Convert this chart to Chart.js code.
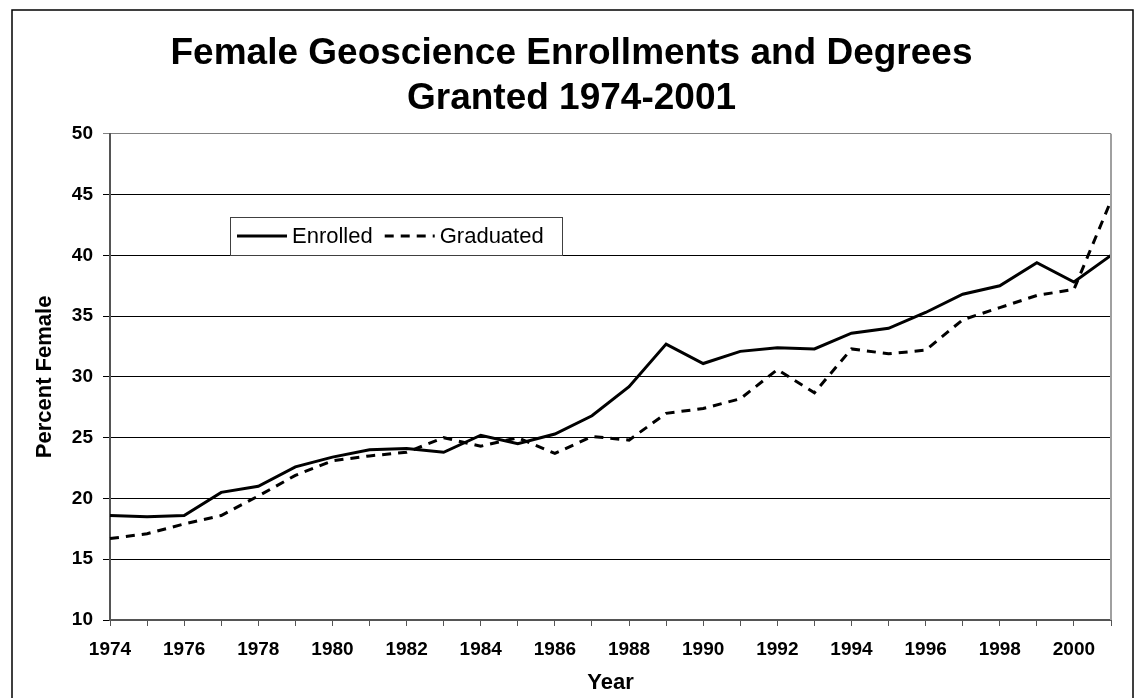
<!DOCTYPE html>
<html>
<head>
<meta charset="utf-8">
<title>Female Geoscience Enrollments and Degrees</title>
<script src="https://cdn.jsdelivr.net/npm/chart.js@4.4.1/dist/chart.umd.min.js"></script>
<style>
  html, body { margin: 0; padding: 0; background: #fff; }
  #wrap { width: 1136px; height: 698px; position: relative; }
</style>
</head>
<body>
<div id="wrap"><canvas id="chart"></canvas></div>
<script>
// ── Data ────
const years = [1974, 1975, 1976, 1977, 1978, 1979, 1980, 1981, 1982, 1983, 1984, 1985, 1986, 1987,
               1988, 1989, 1990, 1991, 1992, 1993, 1994, 1995, 1996, 1997, 1998, 1999, 2000, 2001];
const enrolled = [18.6, 18.5, 18.6, 20.5, 21.0, 22.6, 23.4, 24.0, 24.1, 23.8, 25.2, 24.5, 25.3, 26.8,
                  29.2, 32.7, 31.1, 32.1, 32.4, 32.3, 33.6, 34.0, 35.3, 36.8, 37.5, 39.4, 37.8, 40.0];
const graduated = [16.7, 17.1, 17.9, 18.6, 20.2, 21.9, 23.1, 23.5, 23.8, 25.0, 24.3, 25.0, 23.7, 25.1,
                   24.8, 27.0, 27.4, 28.2, 30.6, 28.7, 32.3, 31.9, 32.2, 34.7, 35.7, 36.7, 37.2, 44.5];
const yTicks = [10, 15, 20, 25, 30, 35, 40, 45, 50];

Chart.defaults.font.family = "'Liberation Sans', Arial, sans-serif";
Chart.defaults.color = '#000';

// ── Legend box inside the plot + outer frame ────
const frameAndLegend = {
    id: 'frameAndLegend',
    afterDraw(chart) {
        const ctx = chart.ctx;
        const area = chart.chartArea;
        ctx.save();
        // right edge of plot area
        ctx.strokeStyle = '#a0a0a0';
        ctx.lineWidth = 2;
        ctx.beginPath();
        ctx.moveTo(area.right, area.top);
        ctx.lineTo(area.right, area.bottom);
        ctx.stroke();
        // outer frame
        ctx.strokeStyle = '#000';
        ctx.lineWidth = 1.5;
        ctx.strokeRect(12, 10, 1121, 720);

        // legend
        const lx = 230, ly = 217, lw = 332, lh = 38;
        ctx.fillStyle = '#fff';
        ctx.fillRect(lx, ly, lw, lh);
        ctx.strokeStyle = '#404040';
        ctx.lineWidth = 1;
        ctx.strokeRect(lx + 0.5, ly + 0.5, lw, lh);
        ctx.font = "22px 'Liberation Sans', Arial, sans-serif";
        ctx.textBaseline = 'middle';
        ctx.fillStyle = '#000';
        const cy = ly + lh / 2;
        let x = lx + 7;
        chart.data.datasets.forEach(ds => {
            ctx.strokeStyle = ds.borderColor;
            ctx.lineWidth = ds.borderWidth;
            ctx.setLineDash(ds.borderDash || []);
            ctx.beginPath();
            ctx.moveTo(x, cy);
            ctx.lineTo(x + 50, cy);
            ctx.stroke();
            ctx.setLineDash([]);
            x += 55;
            ctx.fillText(ds.label, x, cy + 1);
            x += ctx.measureText(ds.label).width + 12;
        });
        ctx.restore();
    }
};

new Chart(document.getElementById('chart'), {
    type: 'line',
    data: {
        labels: years,
        datasets: [
            { label: 'Enrolled', data: enrolled, borderColor: '#000', borderWidth: 3,
              pointRadius: 0, tension: 0, fill: false },
            { label: 'Graduated', data: graduated, borderColor: '#000', borderWidth: 3,
              borderDash: [9, 7], pointRadius: 0, tension: 0, fill: false }
        ]
    },
    options: {
        responsive: true,
        maintainAspectRatio: false,
        animation: false,
        layout: { padding: { left: 32, right: 25, top: 0, bottom: 0 } },
        plugins: {
            legend: { display: false },
            tooltip: { enabled: false },
            title: {
                display: true,
                text: ['Female Geoscience Enrollments and Degrees', 'Granted 1974-2001'],
                font: { size: 37, weight: 'bold' },
                color: '#000',
                padding: { top: 32, bottom: 13 }
            }
        },
        scales: {
            x: {
                type: 'category',
                offset: false,
                afterFit: s => { s.height = 78; },
                grid: { drawOnChartArea: false, drawTicks: true, tickLength: 6, color: '#555', lineWidth: 1 },
                border: { color: '#555', width: 2 },
                ticks: {
                    autoSkip: false, maxRotation: 0, padding: 12,
                    font: { size: 19, weight: 'bold' },
                    callback: (v, i) => (years[i] % 2 === 0 ? String(years[i]) : '')
                },
                title: { display: true, text: 'Year', font: { size: 22, weight: 'bold' }, padding: { top: 2, bottom: 2 } }
            },
            y: {
                min: 10, max: 50,
                afterFit: s => { s.width = 78; },
                afterBuildTicks: s => { s.ticks = yTicks.map(v => ({ value: v })); },
                grid: {
                    drawTicks: true, tickLength: 7, lineWidth: 1,
                    color: c => (c.tick && c.tick.value === 50 ? '#808080' : '#000')
                },
                border: { color: '#555', width: 2 },
                ticks: { padding: 10, font: { size: 19, weight: 'bold' } },
                title: { display: true, text: 'Percent Female', font: { size: 22, weight: 'bold' }, padding: { top: 0, bottom: 0 } }
            }
        }
    },
    plugins: [frameAndLegend]
});
</script>
</body>
</html>
